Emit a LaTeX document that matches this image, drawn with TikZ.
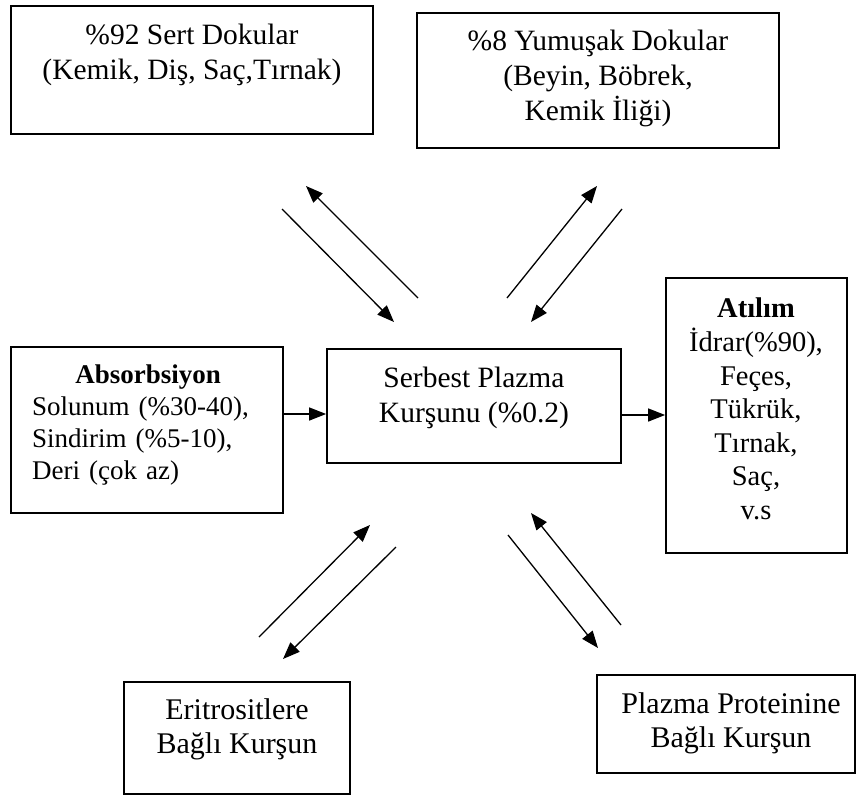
\documentclass[tikz,border=0pt]{standalone}
\usepackage{fontspec}
\setmainfont{Liberation Serif}
\usetikzlibrary{arrows.meta}
\tikzset{
  box/.style={draw=black, line width=1.7pt, inner sep=0pt, fill=none},
  txt/.style={inner sep=0pt, align=center, anchor=north},
  arr/.style={line width=1.3pt, -{Triangle[length=17pt,width=13pt]}},
  ft/.style={font=\fontsize{29.5}{35}\selectfont},
  fs/.style={font=\fontsize{27}{32}\selectfont},
}
\begin{document}
\begin{tikzpicture}[x=1pt,y=-1pt]
\useasboundingbox (0,0) rectangle (857,796);
\fill[white] (0,0) rectangle (857,796);

% boxes
\node[box, minimum width=362pt, minimum height=128pt] (sert) at (192,70) {};
\node[box, minimum width=362pt, minimum height=135pt] (yum) at (598,80.5) {};
\node[box, minimum width=272pt, minimum height=166pt] (abs) at (147,430) {};
\node[box, minimum width=294pt, minimum height=114pt] (serb) at (474,406) {};
\node[box, minimum width=181pt, minimum height=275pt] (atil) at (756.5,415.5) {};
\node[box, minimum width=226pt, minimum height=112pt] (erit) at (237,738) {};
\node[box, minimum width=258pt, minimum height=98pt] (plaz) at (726,724) {};

% texts (north = first baseline - 0.7 baselineskip)
\node[txt, ft] (sertT) at (192,19.5) {\strut\%92 Sert Dokular\\(Kemik, Diş, Saç,Tırnak)};
\node[txt, ft] (yumT) at (598,25.5) {\strut\%8 Yumuşak Dokular\\(Beyin, Böbrek,\\Kemik İliği)};
\node[txt, fs, anchor=north west, text width=232pt, align=left] (absT) at (32,360.6)
  {\strut\makebox[\hsize]{\textbf{Absorbsiyon}}\\Solunum (\%30-40),\\Sindirim (\%5-10),\\Deri (çok az)};
\node[txt, ft] (serbT) at (474,362.5) {\strut Serbest Plazma\\Kurşunu (\%0.2)};
\node[txt, font=\fontsize{28.5}{33.5}\selectfont] (atilT) at (756,293.5) {\strut\textbf{Atılım}\\İdrar(\%90),\\Feçes,\\Tükrük,\\Tırnak,\\Saç,\\v.s};
\node[txt, font=\fontsize{30}{34}\selectfont] (eritT) at (237,695.2) {\strut Eritrositlere\\Bağlı Kurşun};
\node[txt, font=\fontsize{30}{34}\selectfont] (plazT) at (731,689.2) {\strut Plazma Proteinine\\Bağlı Kurşun};

% horizontal connectors
\draw[arr] (abs.east |- 0,414) -- (serb.west |- 0,414);
\draw[arr] (serb.east |- 0,415) -- (atil.west |- 0,415);

% diagonal connector end points
\coordinate (a1) at (282,209); \coordinate (a2) at (394,322);
\coordinate (b1) at (418,298); \coordinate (b2) at (306,186);
\coordinate (c1) at (507,298); \coordinate (c2) at (597,186);
\coordinate (d1) at (622,209); \coordinate (d2) at (531,322);
\coordinate (e1) at (259,637); \coordinate (e2) at (370,525);
\coordinate (f1) at (396,547); \coordinate (f2) at (283,659);
\coordinate (g1) at (508,535); \coordinate (g2) at (598,648);
\coordinate (h1) at (621,625); \coordinate (h2) at (531,513);

\draw[arr] (a1) -- (a2);
\draw[arr] (b1) -- (b2);
\draw[arr] (c1) -- (c2);
\draw[arr] (d1) -- (d2);
\draw[arr] (e1) -- (e2);
\draw[arr] (f1) -- (f2);
\draw[arr] (g1) -- (g2);
\draw[arr] (h1) -- (h2);
\end{tikzpicture}
\end{document}
